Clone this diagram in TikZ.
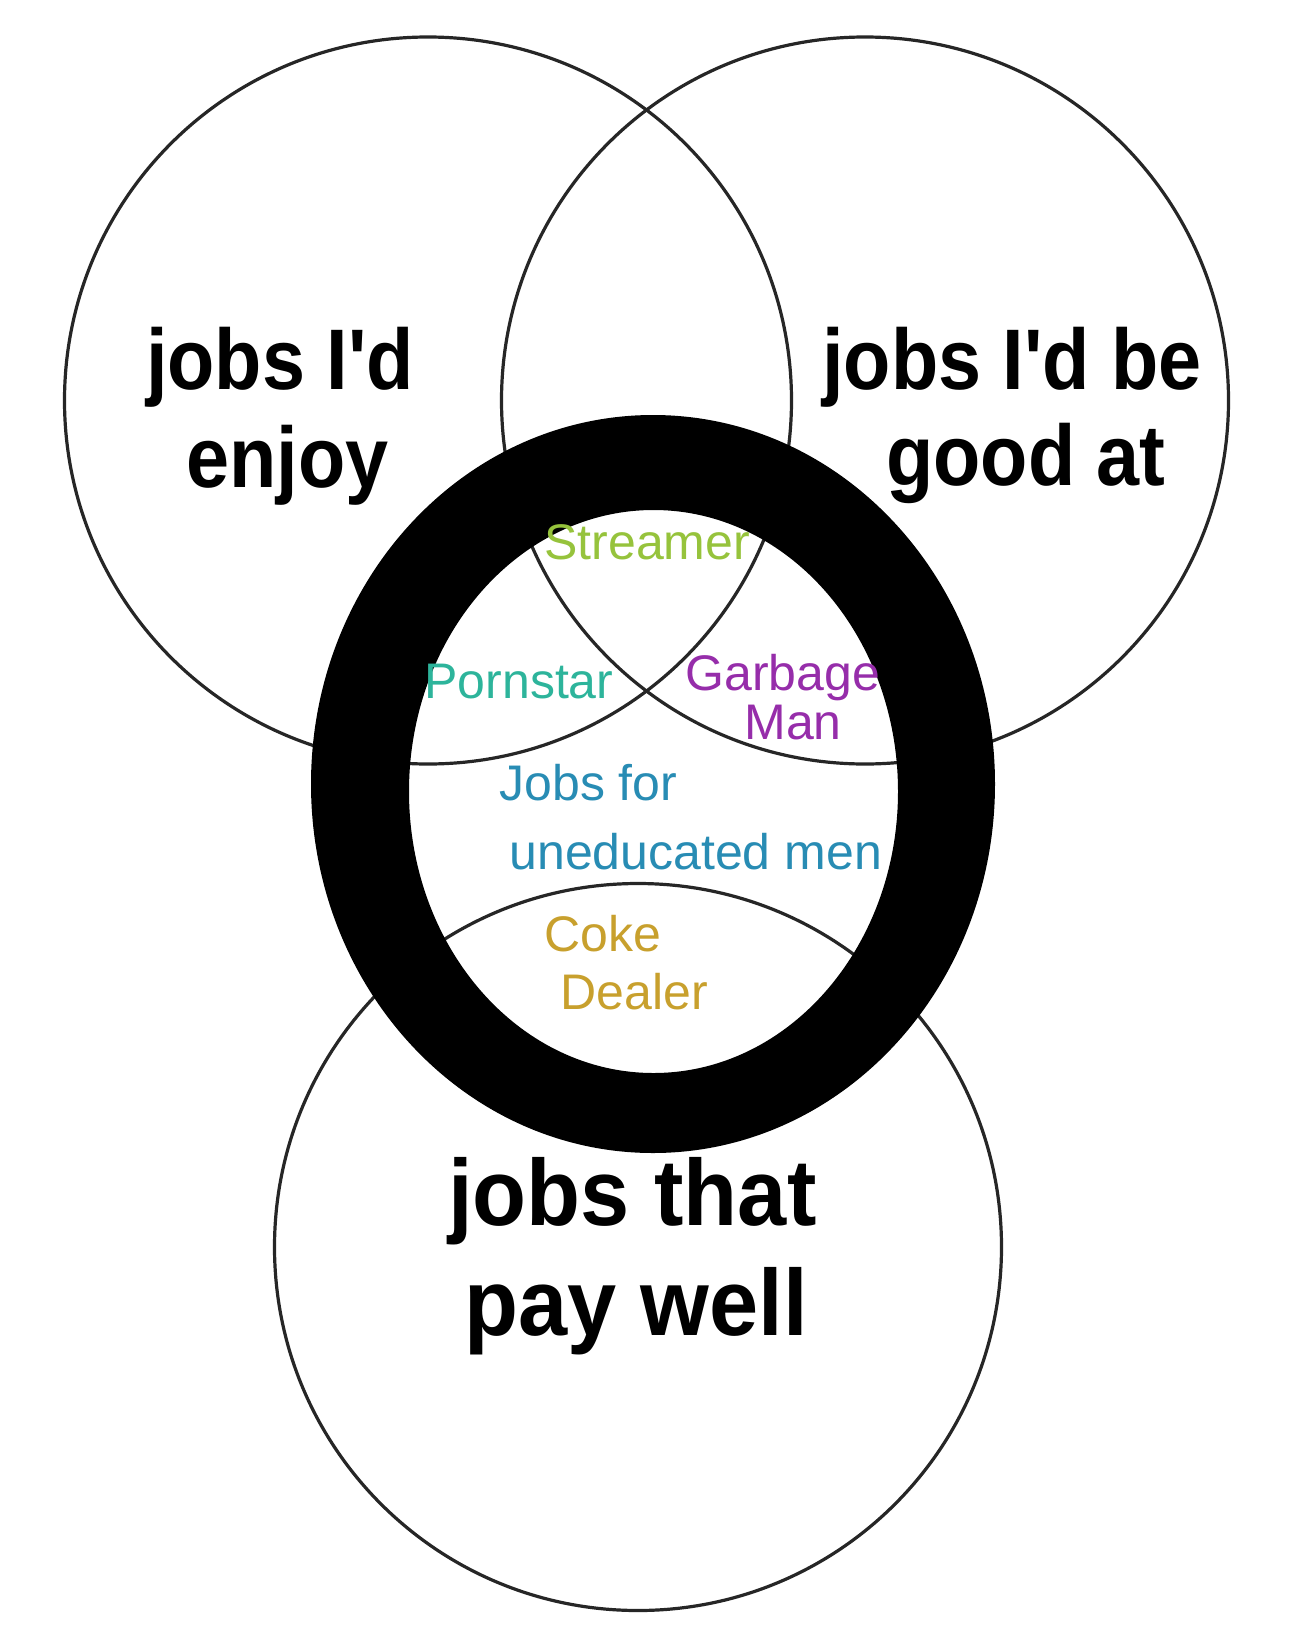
\documentclass[tikz,border=0pt]{standalone}
\usepackage{fontspec}
\setmainfont{Liberation Sans}
\newfontfamily\labfont[FakeStretch=0.9]{Liberation Sans}
\newfontfamily\labfontb[FakeStretch=0.94]{Liberation Sans}
\definecolor{cstream}{RGB}{150,195,60}
\definecolor{cporn}{RGB}{45,180,155}
\definecolor{cgarb}{RGB}{150,45,170}
\definecolor{cjobs}{RGB}{40,140,180}
\definecolor{ccoke}{RGB}{200,160,45}
\tikzset{
  venn/.style={circle, draw=black!85, line width=1.6pt, inner sep=0pt, outer sep=0pt, minimum size=363.5pt},
  biglab/.style={anchor=base, inner sep=0pt, font=\labfont\bfseries\fontsize{43}{49}\selectfont},
  biglabb/.style={anchor=base, inner sep=0pt, font=\labfontb\bfseries\fontsize{47}{55}\selectfont},
  joblab/.style={anchor=base west, inner sep=0pt, font=\fontsize{25}{29}\selectfont},
}
\begin{document}
\begin{tikzpicture}[x=0.5pt,y=-0.5pt]
\useasboundingbox (0,0) rectangle (1289,1628);
\fill[white] (0,0) rectangle (1289,1628);
% the three circles
\node[venn] (enjoy) at (428,400.5) {};
\node[venn] (good)  at (865,400.5) {};
\node[venn] (pay)   at (638,1247) {};
% circle titles
\node[biglab] (t1a) at (280,389) {jobs I'd};
\node[biglab] (t1b) at (287.5,487) {enjoy};
\node[biglab] (t2a) at (1012,389) {jobs I'd be};
\node[biglab] (t2b) at (1026,485) {good at};
\node[biglabb] (t3a) at (632.5,1225) {jobs that};
\node[biglabb] (t3b) at (636,1335) {pay well};
% the big O
\fill[black, even odd rule]
  (653,784) ellipse [x radius=342, y radius=369]
  (653.5,791.5) ellipse [x radius=244.5, y radius=281.5];
% coloured job labels
\node[joblab, text=cstream] (streamer) at (544,559) {Streamer};
\node[joblab, text=cporn] (pornstar) at (424,698) {Pornstar};
\node[joblab, text=cgarb] (garbage) at (685,690) {Garbage};
\node[joblab, text=cgarb] (man) at (744,739) {Man};
\node[joblab, text=cjobs] (jobsfor) at (499,800) {Jobs for};
\node[joblab, text=cjobs] (unedu) at (509,869) {uneducated men};
\node[joblab, text=ccoke] (coke) at (544,951) {Coke};
\node[joblab, text=ccoke] (dealer) at (560,1009) {Dealer};
\end{tikzpicture}
\end{document}
